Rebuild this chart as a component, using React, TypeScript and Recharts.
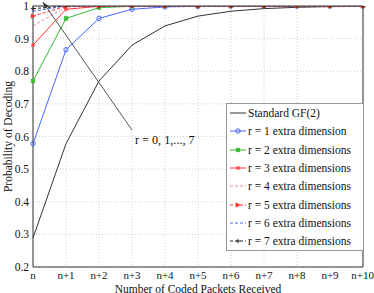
import React from "react";
import { CartesianGrid, Legend, Line, LineChart, ReferenceLine, XAxis, YAxis } from "recharts";

const FONT = "Liberation Serif, DejaVu Serif, serif";

const packetSteps = [0, 1, 2, 3, 4, 5, 6, 7, 8, 9, 10];
const packetLabels = ["n", "n+1", "n+2", "n+3", "n+4", "n+5", "n+6", "n+7", "n+8", "n+9", "n+10"];
const probTicks = [0.2, 0.3, 0.4, 0.5, 0.6, 0.7, 0.8, 0.9, 1];

const standardGF2 = [0.289, 0.578, 0.770, 0.880, 0.939, 0.969, 0.984, 0.992, 0.996, 0.998, 0.999];
const extra1 = [0.578, 0.866, 0.962, 0.990, 0.997, 0.999, 1, 1, 1, 1, 1];
const extra2 = [0.770, 0.962, 0.995, 0.999, 1, 1, 1, 1, 1, 1, 1];
const extra3 = [0.880, 0.990, 0.999, 1, 1, 1, 1, 1, 1, 1, 1];
const extra4 = [0.939, 0.997, 1, 1, 1, 1, 1, 1, 1, 1, 1];
const extra5 = [0.969, 0.999, 1, 1, 1, 1, 1, 1, 1, 1, 1];
const extra6 = [0.984, 1, 1, 1, 1, 1, 1, 1, 1, 1, 1];
const extra7 = [0.992, 1, 1, 1, 1, 1, 1, 1, 1, 1, 1];

// annotation arrow: lower end (text anchor) -> arrow tip
const arrowFrom = { x: 3.0, y: 0.62 };
const arrowTo = { x: 0.3, y: 1.012 };

type Marker = "none" | "circle" | "square" | "star" | "triangle" | "plus";

type SeriesDef = {
  key: string;
  name: string;
  values: number[];
  color: string;
  dash?: string;
  marker: Marker;
};

const series: SeriesDef[] = [
  { key: "s0", name: "Standard GF(2)", values: standardGF2, color: "#333333", marker: "none" },
  { key: "s1", name: "r = 1 extra dimension", values: extra1, color: "#4466ff", marker: "circle" },
  { key: "s2", name: "r = 2 extra dimensions", values: extra2, color: "#33bb33", marker: "square" },
  { key: "s3", name: "r = 3 extra dimensions", values: extra3, color: "#ff3333", marker: "star" },
  { key: "s4", name: "r = 4 extra dimensions", values: extra4, color: "#ee8888", dash: "3 2", marker: "none" },
  { key: "s5", name: "r = 5 extra dimensions", values: extra5, color: "#ff3333", dash: "3 2", marker: "triangle" },
  { key: "s6", name: "r = 6 extra dimensions", values: extra6, color: "#4466ff", dash: "3 2", marker: "none" },
  { key: "s7", name: "r = 7 extra dimensions", values: extra7, color: "#222222", dash: "3 2", marker: "plus" },
];

const data = packetSteps.map((x, i) => {
  const row: Record<string, number> = { x };
  series.forEach((s) => (row[s.key] = s.values[i]));
  return row;
});

function MarkerGlyph({ cx, cy, kind, color }: { cx: number; cy: number; kind: Marker; color: string }) {
  if (kind === "circle") return <circle cx={cx} cy={cy} r={2.2} fill="none" stroke={color} strokeWidth={1} />;
  if (kind === "square") return <rect x={cx - 1.8} y={cy - 1.8} width={3.6} height={3.6} fill={color} stroke={color} strokeWidth={0.6} />;
  if (kind === "star")
    return (
      <g stroke={color} strokeWidth={0.9}>
        <line x1={cx - 2} y1={cy} x2={cx + 2} y2={cy} />
        <line x1={cx} y1={cy - 2} x2={cx} y2={cy + 2} />
        <line x1={cx - 1.5} y1={cy - 1.5} x2={cx + 1.5} y2={cy + 1.5} />
        <line x1={cx - 1.5} y1={cy + 1.5} x2={cx + 1.5} y2={cy - 1.5} />
      </g>
    );
  if (kind === "triangle")
    return <polygon points={`${cx - 2},${cy - 2.2} ${cx + 2.4},${cy} ${cx - 2},${cy + 2.2}`} fill={color} stroke={color} strokeWidth={0.5} />;
  if (kind === "plus")
    return (
      <g stroke={color} strokeWidth={0.9}>
        <line x1={cx - 2.2} y1={cy} x2={cx + 2.2} y2={cy} />
        <line x1={cx} y1={cy - 2.2} x2={cx} y2={cy + 2.2} />
      </g>
    );
  return null;
}

function LegendBox() {
  return (
    <div
      style={{
        border: "1px solid #999",
        background: "white",
        fontFamily: FONT,
        fontSize: 11.5,
        color: "#111",
        padding: "0 2px",
      }}
    >
      {series.map((s) => (
        <div key={s.key} style={{ display: "flex", alignItems: "center", height: 18.3, whiteSpace: "nowrap" }}>
          <svg width={18} height={10} style={{ marginRight: 1 }}>
            <line x1={1} y1={5} x2={17} y2={5} stroke={s.color} strokeWidth={1} strokeDasharray={s.dash} />
            <MarkerGlyph cx={9} cy={5} kind={s.marker} color={s.color} />
          </svg>
          <span>{s.name}</span>
        </div>
      ))}
    </div>
  );
}

function ArrowShape(props: any) {
  const { x1, y1, x2, y2 } = props;
  const ang = Math.atan2(y2 - y1, x2 - x1);
  const len = 7;
  const spread = 0.35;
  const p1 = `${x2 - len * Math.cos(ang - spread)},${y2 - len * Math.sin(ang - spread)}`;
  const p2 = `${x2 - len * Math.cos(ang + spread)},${y2 - len * Math.sin(ang + spread)}`;
  return (
    <g>
      <line x1={x1} y1={y1} x2={x2} y2={y2} stroke="#555" strokeWidth={1} />
      <polygon points={`${x2},${y2} ${p1} ${p2}`} fill="#333" />
      <text x={x1 + 3} y={y1 + 14} style={{ fontFamily: FONT, fontSize: 12.2 }} fill="#111">
        r = 0, 1,..., 7
      </text>
    </g>
  );
}

export default function App() {
  const tickStyle = { fontFamily: FONT, fontSize: 11.5, fill: "#111" };
  return (
    <div style={{ position: "absolute", left: 0, top: 0, background: "white", fontFamily: FONT }}>
      <LineChart width={374} height={293} data={data} margin={{ top: 6, right: 11, left: 0, bottom: 0 }} style={{ fontFamily: FONT }}>
        <CartesianGrid stroke="#cfcfcf" strokeDasharray="1 2" />
        <XAxis
          dataKey="x"
          type="number"
          domain={[0, 10]}
          ticks={packetSteps}
          tickFormatter={(v: number) => packetLabels[v]}
          tick={{ ...tickStyle, fontSize: 11, style: { fontFamily: FONT } }}
          tickLine={false}
          tickSize={3}
          tickMargin={1}
          axisLine={{ stroke: "#333" }}
          height={26}
          label={{ value: "Number of Coded Packets Received", position: "insideBottom", offset: 0.5, style: tickStyle }}
        />
        <YAxis
          type="number"
          domain={[0.2, 1]}
          ticks={probTicks}
          tickFormatter={(v: number) => (v === 1 ? "1" : v.toFixed(1))}
          tick={{ ...tickStyle, style: { fontFamily: FONT } }}
          tickLine={false}
          tickSize={3}
          tickMargin={1}
          axisLine={{ stroke: "#333" }}
          width={33}
          allowDataOverflow
          label={{ value: "Probability of Decoding", angle: -90, position: "insideLeft", offset: 0, dx: 8, style: { ...tickStyle, textAnchor: "middle" } }}
        />
        <ReferenceLine y={1} stroke="#333" />
        <ReferenceLine x={10} stroke="#333" />
        {series.map((s) => (
          <Line
            key={s.key}
            dataKey={s.key}
            name={s.name}
            type="linear"
            stroke={s.color}
            strokeWidth={1}
            strokeDasharray={s.dash}
            isAnimationActive={false}
            dot={(p: any) => <MarkerGlyph key={`${s.key}-${p.index}`} cx={p.cx} cy={p.cy} kind={s.marker} color={s.color} />}
            activeDot={false}
          />
        ))}
        <ReferenceLine segment={[arrowFrom, arrowTo]} ifOverflow="visible" shape={ArrowShape} />
        <Legend
          layout="vertical"
          align="center"
          verticalAlign="middle"
          content={() => <LegendBox />}
          wrapperStyle={{ left: 226, top: 103, width: 138 }}
        />
      </LineChart>
    </div>
  );
}
